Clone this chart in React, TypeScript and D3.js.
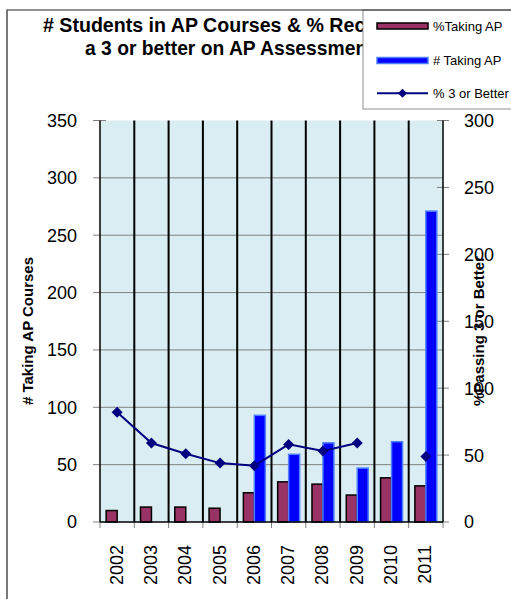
import React from "react";
import * as d3 from "d3";

const years = ["2002", "2003", "2004", "2005", "2006", "2007", "2008", "2009", "2010", "2011"];
const pctTakingAP = [10, 13, 13, 12, 25.5, 35, 33, 23.5, 38.5, 31.5];
const numTakingAP: (number | null)[] = [null, null, null, null, 93, 59, 69, 47, 70, 271];
const pct3OrBetter: (number | null)[] = [82, 59, 51, 44, 42, 58, 53, 59, null, 49];
const leftTicks = [0, 50, 100, 150, 200, 250, 300, 350];
const rightTicks = [0, 50, 100, 150, 200, 250, 300];

const W = 511;
const H = 599;
const FONT = "'Liberation Sans', Arial, sans-serif";

export default function App() {
  const left = 100, right = 443, top = 120.5, bottom = 522;
  const x = d3.scaleBand<string>().domain(years).range([left, right]).padding(0);
  const yL = d3.scaleLinear().domain([0, 350]).range([bottom, top]);
  const yR = d3.scaleLinear().domain([0, 300]).range([bottom, top]);
  const bw = x.bandwidth() * 0.32;

  const line = d3
    .line<number | null>()
    .defined((d) => d != null)
    .x((_, i) => (x(years[i]) as number) + x.bandwidth() / 2)
    .y((d) => yR(d as number));

  const diamond = (cx: number, cy: number, r: number) =>
    `M${cx},${cy - r}L${cx + r},${cy}L${cx},${cy + r}L${cx - r},${cy}Z`;

  const boundaries = years.slice(1).map((y) => x(y) as number);

  return (
    <svg width={W} height={H} style={{ position: "absolute", left: 0, top: 0, fontFamily: FONT }}>
      <rect x={0} y={0} width={W} height={H} fill="#ffffff" />
      {/* title */}
      <text x={43} y={32} fontSize={19.6} fontWeight="bold" fill="#000">
        # Students in AP Courses &amp; % Receiving
      </text>
      <text x={85} y={54.5} fontSize={19.3} fontWeight="bold" fill="#000">
        a 3 or better on AP Assessments
      </text>

      {/* plot background */}
      <rect x={left} y={top} width={right - left} height={bottom - top} fill="#daedf2" />
      {/* horizontal gridlines */}
      {leftTicks.filter((t) => t > 0 && t < 350).map((t) => (
        <line key={"g" + t} x1={left} x2={right} y1={yL(t)} y2={yL(t)} stroke="#808080" strokeWidth={1} />
      ))}
      {/* vertical black lines */}
      {boundaries.map((bx, i) => (
        <line key={"v" + i} x1={bx} x2={bx} y1={top} y2={bottom} stroke="#000" strokeWidth={2} />
      ))}

      {/* left ticks */}
      {leftTicks.map((t) => (
        <g key={"lt" + t}>
          <line x1={93} x2={left + (t === 350 ? 6 : 0)} y1={yL(t)} y2={yL(t)} stroke="#808080" strokeWidth={1} />
          <text x={77} y={yL(t)} dy="0.36em" textAnchor="end" fontSize={18} fill="#000">
            {t}
          </text>
        </g>
      ))}
      {/* right ticks */}
      {rightTicks.map((t) => (
        <g key={"rt" + t}>
          <line x1={437} x2={449} y1={yR(t)} y2={yR(t)} stroke="#808080" strokeWidth={1} />
          <text x={464} y={yR(t)} dy="0.36em" textAnchor="start" fontSize={18} fill="#000">
            {t}
          </text>
        </g>
      ))}
      {/* bottom ticks */}
      {[left, ...boundaries, right].map((bx, i) => (
        <line key={"bt" + i} x1={bx} x2={bx} y1={bottom} y2={bottom + 6} stroke="#808080" strokeWidth={1} />
      ))}

      {/* bars */}
      {years.map((yr, i) => {
        const cx = (x(yr) as number) + x.bandwidth() / 2;
        return (
          <rect
            key={"m" + yr}
            x={cx - bw}
            y={yL(pctTakingAP[i])}
            width={bw}
            height={bottom - yL(pctTakingAP[i])}
            fill="#993366"
            stroke="#000"
            strokeWidth={1.5}
          />
        );
      })}
      {years.map((yr, i) => {
        const v = numTakingAP[i];
        if (v == null) return null;
        const cx = (x(yr) as number) + x.bandwidth() / 2;
        return (
          <rect
            key={"b" + yr}
            x={cx}
            y={yL(v)}
            width={bw}
            height={bottom - yL(v)}
            fill="#0000ff"
            stroke="#4d7fff"
            strokeWidth={1.5}
          />
        );
      })}

      {/* axes lines */}
      <line x1={left} x2={left} y1={top} y2={bottom} stroke="#000" strokeWidth={1.5} />
      <line x1={right} x2={right} y1={top} y2={bottom} stroke="#000" strokeWidth={1.5} />
      <line x1={left} x2={right} y1={bottom} y2={bottom} stroke="#000" strokeWidth={1.5} />

      {/* line series */}
      <path d={line(pct3OrBetter) || ""} fill="none" stroke="#000080" strokeWidth={2} />
      {pct3OrBetter.map((v, i) =>
        v == null ? null : (
          <path
            key={"d" + i}
            d={diamond((x(years[i]) as number) + x.bandwidth() / 2, yR(v), 5.5)}
            fill="#000080"
          />
        )
      )}

      {/* x labels */}
      {years.map((yr) => {
        const cx = (x(yr) as number) + x.bandwidth() / 2 - 1;
        return (
          <text
            key={"xl" + yr}
            transform={`translate(${cx},545) rotate(-90)`}
            dy="0.36em"
            textAnchor="end"
            fontSize={18}
            fill="#000"
          >
            {yr}
          </text>
        );
      })}

      {/* axis titles */}
      <text transform="translate(33,331) rotate(-90)" textAnchor="middle" fontSize={15} fontWeight="bold" fill="#000">
        # Taking AP Courses
      </text>
      <text transform="translate(484,331) rotate(-90)" textAnchor="middle" fontSize={15} fontWeight="bold" fill="#000">
        %Passing 3 or Better
      </text>

      {/* legend */}
      <rect x={363} y={10} width={170} height={99} fill="#ffffff" stroke="#909090" strokeWidth={1} />
      <rect x={377} y={23} width={51} height={6} fill="#993366" stroke="#000" strokeWidth={1.5} />
      <text x={433} y={31} fontSize={13} fill="#000">%Taking AP</text>
      <rect x={377} y={57.5} width={51} height={6} fill="#0000ff" stroke="#4d7fff" strokeWidth={1.5} />
      <text x={433} y={64.5} fontSize={13} fill="#000"># Taking AP</text>
      <line x1={377} x2={428} y1={93.3} y2={93.3} stroke="#000080" strokeWidth={2} />
      <path d={diamond(402.5, 93.3, 4.5)} fill="#000080" />
      <text x={433} y={98} fontSize={13} fill="#000">% 3 or Better</text>

      {/* chart border */}
      <path d={`M7,${H + 2}L7,10L${W + 2},10`} fill="none" stroke="#222" strokeWidth={1.2} />
    </svg>
  );
}
